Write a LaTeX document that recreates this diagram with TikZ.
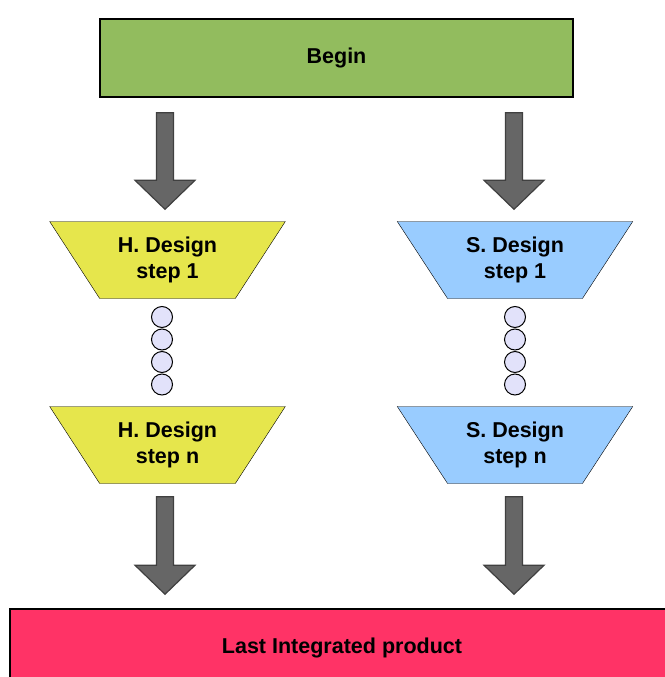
\documentclass[tikz,border=0pt]{standalone}
\usepackage{fontspec}
\setmainfont{Liberation Sans}
\usetikzlibrary{shapes.geometric, calc}
\definecolor{begingreen}{HTML}{92BC5E}
\definecolor{hyellow}{HTML}{E6E64C}
\definecolor{sblue}{HTML}{99CCFF}
\definecolor{lastred}{HTML}{FF3366}
\definecolor{dotblue}{HTML}{E2E2FA}
\definecolor{arrowgray}{HTML}{666666}

\begin{document}
\begin{tikzpicture}[x=1pt, y=-1pt,
  every node/.style={font=\fontsize{21.5}{26}\selectfont\bfseries, align=center},
  box/.style={draw, line width=1.5pt, minimum width=473pt, minimum height=78pt},
  stepbox/.style={trapezium, shape border rotate=180, trapezium angle=53.5,
    trapezium stretches=true, draw, minimum width=236pt, minimum height=77pt},
  dot/.style={circle, draw, fill=dotblue, minimum size=21pt, inner sep=0pt, line width=1pt},
  blockarrow/.style={draw=black!75, fill=arrowgray, line width=1.2pt, to path={
    let \p1=(\tikztostart), \p2=(\tikztotarget) in
    (\x1-8.5pt,\y1) -- (\x1+8.5pt,\y1) -- (\x1+8.5pt,\y2+29pt) -- (\x1+30pt,\y2+29pt)
    -- (\x1,\y2) -- (\x1-30pt,\y2+29pt) -- (\x1-8.5pt,\y2+29pt) -- cycle}}]
\useasboundingbox (0,0) rectangle (664,677);
\node[box, fill=begingreen] (begin) at (336.5,58) {Begin};
\node[stepbox, fill=hyellow] (hdone) at (167.5,260) {H. Design\\step 1};
\node[stepbox, fill=sblue] (sdone) at (515,260) {S. Design\\step 1};
\node[stepbox, fill=hyellow] (hdn) at (167.5,445) {H. Design\\step n};
\node[stepbox, fill=sblue] (sdn) at (515,445) {S. Design\\step n};
\node[box, fill=lastred, minimum width=664pt] (last) at (342,648) {Last Integrated product};
\foreach \i in {0,...,3} {
  \node[dot] (hdot\i) at (162,317+22.5*\i) {};
  \node[dot] (sdot\i) at (515,317+22.5*\i) {};
}
\draw[blockarrow] ($(begin.south -| hdone.north)+(-2.5,15)$) to ($(hdone.north)+(-2.5,-12)$);
\draw[blockarrow] ($(begin.south -| sdone.north)+(-1,15)$) to ($(sdone.north)+(-1,-12)$);
\draw[blockarrow] ($(hdn.south)+(-2.5,13)$) to ($(last.north -| hdn.south)+(-2.5,-14)$);
\draw[blockarrow] ($(sdn.south)+(-1,13)$) to ($(last.north -| sdn.south)+(-1,-14)$);
\end{tikzpicture}
\end{document}
